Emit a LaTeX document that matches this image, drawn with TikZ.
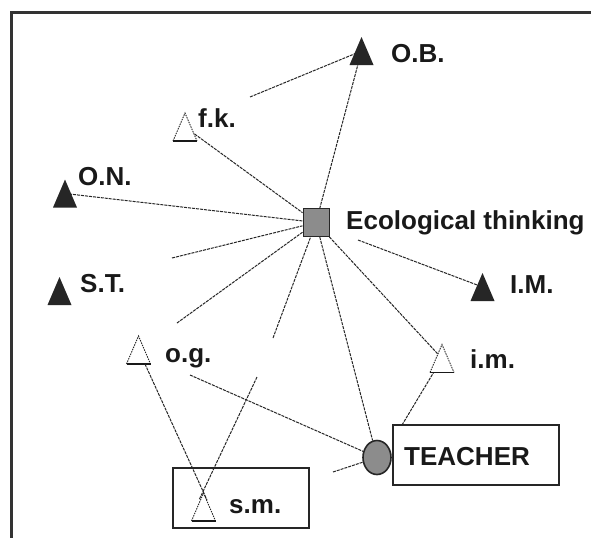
\documentclass[tikz,border=0pt]{standalone}
\usepackage{fontspec}
\setmainfont{Liberation Sans}
\usetikzlibrary{shapes.geometric}
\begin{document}
\begin{tikzpicture}[x=1pt,y=-1pt,
  lab/.style={font=\fontsize{26}{30}\selectfont\bfseries, anchor=base west, inner sep=0pt, text=black!90},
  link/.style={draw=black!85, line width=1pt, dash pattern=on 3pt off 1pt},
  frameline/.style={draw=black!80, line width=3pt},
  boxstyle/.style={draw=black!85, line width=1.8pt, inner sep=0pt},
  filltri/.pic={\fill[black!85] (-12,14) -- (0,-14) -- (12,14) -- cycle;},
  opentri/.pic={\fill[white] (-12,14) -- (0,-14) -- (12,14) -- cycle;
    \draw[black!85, line width=0.9pt, dash pattern=on 1.5pt off 1pt] (-12,14) -- (0,-14) -- (12,14);
    \draw[black!90, line width=1.1pt] (-12,14) -- (12,14);}]
\useasboundingbox (0,0) rectangle (591,538);
\fill[white] (0,0) rectangle (591,538);
\draw[frameline] (591,12) -- (11,12) -- (11,538);

% positions of triangles
\coordinate (OB) at (361.5,51);
\coordinate (fk) at (185,127);
\coordinate (ON) at (65,193.5);
\coordinate (ST) at (59.5,291);
\coordinate (IM) at (482.5,287);
\coordinate (im) at (442,358.5);
\coordinate (og) at (138.5,350);
\coordinate (sm) at (203.5,507);
\coordinate (ogb) at (145,364);
\coordinate (smx1) at (207,500);
\coordinate (smx2) at (199,500);

% free ends
\coordinate (fOB) at (250,97);
\coordinate (fa) at (172,258);
\coordinate (fb) at (177,323);
\coordinate (fc) at (273,338);
\coordinate (fIM) at (358,240);
\coordinate (fe) at (190,375);
\coordinate (ff) at (333,472);
\coordinate (fim) at (402,425);
\coordinate (fg) at (257,377);

% s.m. box
\node[boxstyle, minimum width=136pt, minimum height=60pt] (smbox) at (241,498) {};

% central nodes
\node[draw=black!85, line width=1pt, fill=black!45, minimum width=26pt, minimum height=28pt, inner sep=0pt] (eco) at (316,222.5) {};
\node[ellipse, draw=black!85, line width=1.6pt, fill=black!45, minimum width=28pt, minimum height=34pt, inner sep=0pt] (tc) at (377,457.5) {};

% connectors
\draw[link] (fOB) -- (OB);
\draw[link] (OB) -- (eco);
\draw[link] (fk) -- (eco);
\draw[link] (ON) -- (eco);
\draw[link] (fa) -- (eco);
\draw[link] (fb) -- (eco);
\draw[link] (fc) -- (eco);
\draw[link] (eco) -- (tc);
\draw[link] (eco) -- (im);
\draw[link] (fIM) -- (IM);
\draw[link] (fe) -- (tc);
\draw[link] (ff) -- (tc);
\draw[link] (fim) -- (im);

% TEACHER box
\node[boxstyle, fill=white, minimum width=166pt, minimum height=60pt] (tbox) at (476,455) {};

% triangles
\pic at (OB) {filltri};
\pic at (ON) {filltri};
\pic at (ST) {filltri};
\pic at (IM) {filltri};
\pic at (fk) {opentri};
\pic at (im) {opentri};
\pic at (og) {opentri};
\pic at (sm) {opentri};

% crossing connectors into s.m.
\draw[link] (ogb) -- (smx1);
\draw[link] (fg) -- (smx2);

% labels
\node[lab] (lOB) at (391,62) {O.B.};
\node[lab] (lfk) at (198,127) {f.k.};
\node[lab] (lON) at (78,185) {O.N.};
\node[lab] (leco) at (346,229) {Ecological thinking};
\node[lab] (lST) at (80,292) {S.T.};
\node[lab] (lIM) at (510,293) {I.M.};
\node[lab] (lim) at (470,368) {i.m.};
\node[lab] (log) at (165,362) {o.g.};
\node[lab] (lT) at (404,465) {TEACHER};
\node[lab] (lsm) at (229,513) {s.m.};
\end{tikzpicture}
\end{document}
